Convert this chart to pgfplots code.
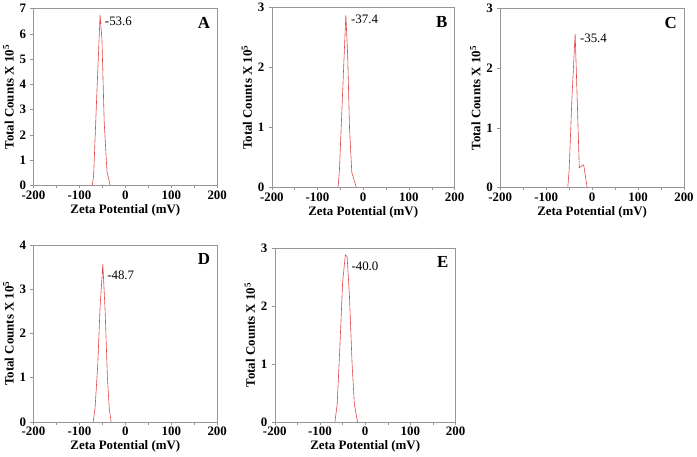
\documentclass[border=0pt]{standalone}
\usepackage{pgfplots}
\pgfplotsset{compat=1.18}
\usepackage{fontspec}
\setmainfont{Liberation Serif}
\definecolor{zred}{RGB}{225,70,70}
\definecolor{axgray}{RGB}{150,150,150}
\tikzset{
  ann/.style={anchor=west, font=\fontsize{13}{14}\selectfont},
  tag/.style={anchor=north east, font=\fontsize{17}{18}\selectfont\bfseries},
}
\pgfplotsset{
  zeta/.style={
    scale only axis,
    anchor=south west,
    xmin=-200, xmax=200, ymin=0,
    xtick={-200,-100,...,200},
    minor xtick={-150,-50,50,150},
    tick align=outside, tick pos=left,
    major tick length=3pt, minor tick length=3pt,
    every tick/.style={axgray},
    axis line style={axgray},
    tick label style={font=\fontsize{13}{14}\selectfont\bfseries},
    xticklabel style={yshift=1pt},
    yticklabel style={xshift=-1pt},
    /pgf/number format/assume math mode=true,
    xlabel={Zeta Potential (mV)},
    ylabel={Total Counts X 10\textsuperscript{5}},
    label style={font=\fontsize{13}{14}\selectfont\bfseries},
    xlabel style={yshift=2pt},
    ylabel style={yshift=-1pt},
    clip=false,
  },
  peak/.style={zred, line width=0.6pt, mark=none},
}
\begin{document}
\begin{tikzpicture}
\path (0pt,0pt) rectangle (697pt,458pt);
% A
\begin{axis}[zeta, at={(29pt,273pt)}, width=185pt, height=178pt, ymax=7, ytick={0,...,7}]
\addplot[peak] coordinates {(-72,0) (-69,0.4) (-63,3.2) (-55,6.75) (-51,5.8) (-46,2.5) (-40,0.55) (-33,0)};
\node[ann] at (axis cs:-52,6.5) {-53.6};
\node[tag] at (rel axis cs:0.98,0.97) {A};
\end{axis}
% B
\begin{axis}[zeta, at={(269pt,271pt)}, width=184pt, height=181pt, ymax=3, ytick={0,...,3}]
\addplot[peak] coordinates {(-55,0) (-52,0.3) (-45,1.6) (-38,2.88) (-34,2.2) (-30,1.0) (-25,0.25) (-15,0)};
\node[ann] at (axis cs:-34,2.8) {-37.4};
\node[tag] at (rel axis cs:0.98,0.97) {B};
\end{axis}
% C
\begin{axis}[zeta, at={(499pt,271pt)}, width=185pt, height=180pt, ymax=3, ytick={0,...,3}]
\addplot[peak] coordinates {(-53,0) (-50,0.3) (-44,1.5) (-37,2.58) (-33,1.6) (-28,0.33) (-24,0.35) (-20,0.38) (-18,0.36) (-11,0)};
\node[ann] at (axis cs:-34,2.5) {-35.4};
\node[tag] at (rel axis cs:0.98,0.97) {C};
\end{axis}
% D
\begin{axis}[zeta, at={(29pt,35pt)}, width=185pt, height=178pt, ymax=4, ytick={0,...,4}]
\addplot[peak] coordinates {(-70,0) (-66,0.3) (-60,1.3) (-55,2.6) (-49,3.57) (-44,2.5) (-39,1.0) (-35,0.3) (-31,0)};
\node[ann] at (axis cs:-47,3.32) {-48.7};
\node[tag] at (rel axis cs:0.98,0.97) {D};
\end{axis}
% E
\begin{axis}[zeta, at={(272pt,35pt)}, width=182pt, height=175pt, ymax=3, ytick={0,...,3}]
\addplot[peak] coordinates {(-67,0) (-62,0.3) (-56,1.3) (-50,2.4) (-44,2.88) (-40,2.85) (-35,2.2) (-29,1.0) (-24,0.3) (-17,0)};
\node[ann] at (axis cs:-38,2.68) {-40.0};
\node[tag] at (rel axis cs:0.98,0.97) {E};
\end{axis}
\end{tikzpicture}
\end{document}
